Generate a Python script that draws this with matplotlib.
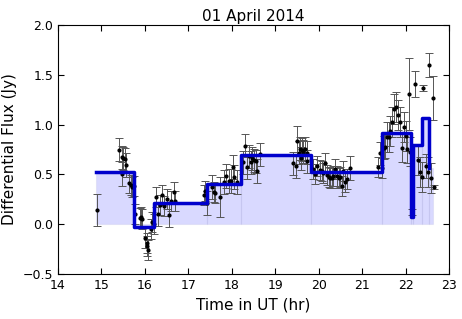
import numpy as np
import matplotlib
matplotlib.use('Agg')
import matplotlib.pyplot as plt

# light curve points (time in UT hr, flux in Jy, 1-sigma error)
t = [14.90, 15.41, 15.47, 15.50, 15.54, 15.56, 15.47, 15.63, 15.67, 15.70, 15.74,
     15.77, 15.88, 15.91, 15.94, 16.00, 16.04, 16.06, 16.08, 16.13, 16.17, 16.20,
     16.25, 16.31, 16.35, 16.39, 16.43, 16.50, 16.56, 16.60, 16.66, 16.70,
     17.35, 17.39, 17.43, 17.54, 17.60, 17.62, 17.72, 17.83, 17.86, 17.94, 17.99,
     18.03, 18.05, 18.12, 18.26, 18.30, 18.35, 18.40, 18.44, 18.47, 18.50, 18.56,
     18.59, 18.65, 19.42, 19.48, 19.50, 19.55, 19.58, 19.60, 19.62, 19.65, 19.69,
     19.73, 19.74, 19.88, 19.92, 19.97, 20.02, 20.08, 20.11, 20.15, 20.18, 20.23,
     20.27, 20.31, 20.34, 20.38, 20.42, 20.46, 20.50, 20.54, 20.57, 20.61, 20.65,
     20.71, 21.36, 21.42, 21.46, 21.50, 21.53, 21.57, 21.61, 21.63, 21.69, 21.73,
     21.77, 21.82, 21.86, 21.92, 21.96, 22.00, 22.03, 22.07, 22.11, 22.15, 22.21,
     22.29, 22.33, 22.37, 22.40, 22.46, 22.51, 22.54, 22.59, 22.62, 22.66]
flux = [0.14, 0.75, 0.67, 0.66, 0.65, 0.59, 0.50, 0.41, 0.39, 0.37, 0.38,
        0.10, 0.06, 0.07, 0.05, -0.14, -0.19, -0.22, -0.26, -0.05, 0.02, 0.00,
        0.27, 0.10, 0.19, 0.29, 0.18, 0.25, 0.09, 0.23, 0.32, 0.23,
        0.29, 0.33, 0.21, 0.37, 0.32, 0.31, 0.27, 0.42, 0.48, 0.43, 0.43,
        0.57, 0.47, 0.42, 0.62, 0.79, 0.57, 0.68, 0.62, 0.66, 0.64, 0.63,
        0.53, 0.70, 0.61, 0.58, 0.84, 0.72, 0.76, 0.66, 0.75, 0.73, 0.76,
        0.72, 0.63, 0.55, 0.50, 0.58, 0.54, 0.53, 0.51, 0.61, 0.49, 0.47,
        0.46, 0.46, 0.48, 0.55, 0.48, 0.46, 0.47, 0.38, 0.53, 0.42, 0.45,
        0.56, 0.57, 0.71, 0.56, 0.77, 0.78, 0.88, 0.88, 0.94, 1.03, 1.16,
        1.18, 1.10, 1.03, 0.77, 0.98, 0.89, 0.76, 1.31, 0.73, 0.12, 1.41,
        0.64, 0.52, 0.47, 1.37, 0.58, 0.52, 1.60, 0.46, 1.27, 0.37]
err = [0.16, 0.12, 0.12, 0.12, 0.12, 0.12, 0.12, 0.10, 0.10, 0.10, 0.10,
       0.10, 0.10, 0.10, 0.10, 0.10, 0.10, 0.10, 0.10, 0.10, 0.10, 0.10,
       0.10, 0.12, 0.10, 0.10, 0.10, 0.10, 0.12, 0.10, 0.10, 0.10,
       0.10, 0.10, 0.12, 0.12, 0.10, 0.10, 0.20, 0.12, 0.12, 0.12, 0.12,
       0.12, 0.12, 0.12, 0.12, 0.12, 0.12, 0.12, 0.12, 0.12, 0.12, 0.12,
       0.12, 0.12, 0.12, 0.12, 0.15, 0.12, 0.12, 0.12, 0.12, 0.12, 0.12,
       0.12, 0.12, 0.10, 0.10, 0.10, 0.10, 0.10, 0.10, 0.10, 0.10, 0.10,
       0.10, 0.10, 0.10, 0.10, 0.10, 0.10, 0.10, 0.10, 0.10, 0.10, 0.10,
       0.12, 0.10, 0.12, 0.10, 0.12, 0.12, 0.15, 0.15, 0.15, 0.15, 0.15,
       0.15, 0.15, 0.15, 0.15, 0.15, 0.15, 0.15, 0.36, 0.15, 0.03, 0.13,
       0.15, 0.15, 0.15, 0.03, 0.12, 0.15, 0.12, 0.15, 0.22, 0.02]

# bayesian block edges and block amplitudes
edges = [14.88, 15.75, 16.21, 17.43, 18.21, 19.82, 21.46, 22.13, 22.18, 22.38, 22.54, 22.64]
amp = [0.525, -0.03, 0.21, 0.40, 0.69, 0.525, 0.92, 0.07, 0.80, 1.065, 0.56]

fig = plt.figure(figsize=(4.62, 3.19), dpi=100)
ax = fig.add_axes([0.1255, 0.141, 0.8465, 0.7806])

for i in range(len(amp)):
    ax.fill_between([edges[i], edges[i+1]], 0, amp[i], color='blue', alpha=0.15,
                    edgecolor=(0.6, 0.6, 0.8, 0.3), linewidth=0.8)

ax.errorbar(t, flux, yerr=err, fmt='.', color='black', ecolor='#555555',
            elinewidth=0.7, capsize=3, capthick=0.7, markersize=4, zorder=3)

ax.step(edges[:-1], amp, where='post', color='#0000cc', linewidth=2.5, zorder=4)

ax.set_xlim(14, 23)
ax.set_ylim(-0.5, 2.0)
ax.set_xticks(np.arange(14, 24, 1))
ax.set_yticks(np.arange(-0.5, 2.01, 0.5))
ax.tick_params(direction='in', top=True, right=True, labelsize=9, length=4)
ax.set_xlabel('Time in UT (hr)', fontsize=11)
ax.set_ylabel('Differential Flux (Jy)', fontsize=11)
ax.set_title('01 April 2014', fontsize=11, pad=3)

fig.savefig('out.png', dpi=100)
